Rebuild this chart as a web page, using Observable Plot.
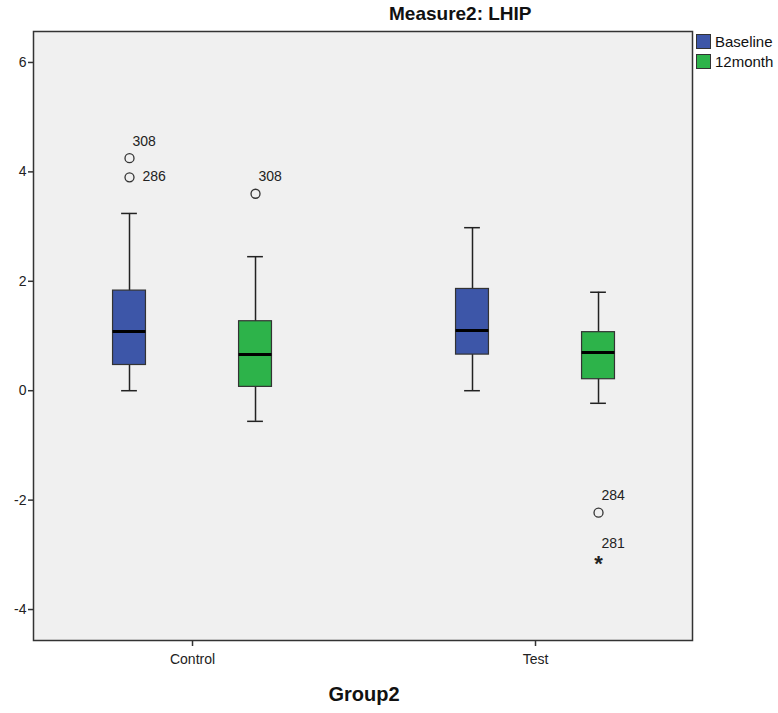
<!DOCTYPE html>
<html>
<head>
<meta charset="utf-8">
<script src="https://cdn.jsdelivr.net/npm/d3@7"></script>
<script src="https://cdn.jsdelivr.net/npm/@observablehq/plot@0.6"></script>
<style>
  body { margin: 0; background: #fff; font-family: "Liberation Sans", Arial, sans-serif; }
  #wrap { position: relative; width: 778px; height: 713px; }
  #title { position: absolute; left: 389px; top: 3px; font-weight: bold; font-size: 19px; color: #111; white-space: nowrap; }
  #xtitle { position: absolute; left: 0; width: 728px; text-align: center; top: 683px; font-weight: bold; font-size: 20px; color: #111; }
  #legend { position: absolute; left: 696px; top: 31px; font-size: 15px; color: #111; }
  .li { display: flex; align-items: center; height: 20px; }
  .sw { width: 13px; height: 13px; border: 1px solid #333; margin-right: 4px; }
</style>
</head>
<body>
<div id="wrap">
  <div id="title">Measure2: LHIP</div>
  <div id="chart"></div>
  <div id="legend"></div>
  <div id="xtitle">Group2</div>
</div>
<script>
// ---- data ----
const groups = ["Control", "Test"];
const series = ["Baseline", "12month"];
const seriesColors = ["#3D56A8", "#2DB34A"];

const boxGroup    = ["Control", "Control", "Test", "Test"];
const boxSeries   = ["Baseline", "12month", "Baseline", "12month"];
const whiskerLow  = [0.00, -0.56, 0.00, -0.23];
const q1          = [0.47, 0.07, 0.66, 0.21];
const median      = [1.08, 0.66, 1.10, 0.70];
const q3          = [1.83, 1.27, 1.86, 1.07];
const whiskerHigh = [3.24, 2.45, 2.98, 1.80];

const outGroup  = ["Control", "Control", "Control", "Test", "Test"];
const outSeries = ["Baseline", "Baseline", "12month", "12month", "12month"];
const outValue  = [4.25, 3.90, 3.60, -2.23, -3.10];
const outId     = ["308", "286", "308", "284", "281"];
const outKind   = ["outlier", "outlier", "outlier", "outlier", "extreme"];

const yTicks = [-4, -2, 0, 2, 4, 6];

// ---- layout helpers (code, not data) ----
const seriesOffset = 0.1837;
const boxHalf = 0.048;
const capHalf = 0.023;
const xOf = (g, s) => groups.indexOf(g) + (series.indexOf(s) === 0 ? -seriesOffset : seriesOffset);

const boxes = boxGroup.map((g, i) => ({
  group: g, series: boxSeries[i], x: xOf(g, boxSeries[i]),
  lo: whiskerLow[i], q1: q1[i], med: median[i], q3: q3[i], hi: whiskerHigh[i]
}));
const outs = outGroup.map((g, i) => ({
  group: g, series: outSeries[i], x: xOf(g, outSeries[i]),
  v: outValue[i], id: outId[i], kind: outKind[i]
}));
// label goes to the right if another point of the same box sits just above it
outs.forEach(d => {
  d.side = outs.some(o => o !== d && o.x === d.x && o.v > d.v && o.v - d.v < 0.5) ? "right" : "above";
});

const chart = Plot.plot({
  width: 778,
  height: 713,
  marginTop: 31,
  marginBottom: 73,
  marginLeft: 33,
  marginRight: 86,
  style: { fontFamily: "Liberation Sans, Arial, sans-serif", fontSize: "12px", color: "#222", background: "transparent" },
  x: { domain: [-0.4636, 1.4577], axis: null },
  y: { domain: [-4.566, 6.566], axis: null },
  marks: [
    Plot.frame({ fill: "#F0F0F0" }),
    Plot.axisY({ ticks: yTicks, tickFormat: d => String(d), tickSize: 5, tickPadding: 2, label: null, fontSize: 14, stroke: "#333", strokeWidth: 1.5 }),
    Plot.axisX({ ticks: [0, 1], tickFormat: i => groups[i], tickSize: 6, tickPadding: 8, label: null, fontSize: 14, stroke: "#333", strokeWidth: 1.5 }),
    // whiskers
    Plot.ruleX(boxes, { x: "x", y1: "lo", y2: "hi", stroke: "#222", strokeWidth: 1.5 }),
    Plot.ruleY(boxes, { y: "lo", x1: d => d.x - capHalf, x2: d => d.x + capHalf, stroke: "#222", strokeWidth: 1.5 }),
    Plot.ruleY(boxes, { y: "hi", x1: d => d.x - capHalf, x2: d => d.x + capHalf, stroke: "#222", strokeWidth: 1.5 }),
    // boxes
    Plot.rect(boxes, { x1: d => d.x - boxHalf, x2: d => d.x + boxHalf, y1: "q1", y2: "q3",
      fill: d => seriesColors[series.indexOf(d.series)], stroke: "#333", strokeWidth: 1.2 }),
    // medians
    Plot.ruleY(boxes, { y: "med", x1: d => d.x - boxHalf, x2: d => d.x + boxHalf, stroke: "#000", strokeWidth: 3 }),
    // outliers
    Plot.dot(outs.filter(d => d.kind === "outlier"), { x: "x", y: "v", r: 4.5, stroke: "#333", strokeWidth: 1.3, fill: "none" }),
    Plot.text(outs.filter(d => d.kind === "extreme"), { x: "x", y: "v", text: () => "*", fontSize: 22, fontWeight: "bold", dy: 4, fill: "#222" }),
    // outlier labels
    Plot.text(outs.filter(d => d.side === "above"), { x: "x", y: "v", text: "id", textAnchor: "start", fontSize: 14, fill: "#222", dx: 3, dy: -17 }),
    Plot.text(outs.filter(d => d.side === "right"), { x: "x", y: "v", text: "id", textAnchor: "start", fontSize: 14, fill: "#222", dx: 13, dy: -1 }),
    Plot.frame({ stroke: "#333", strokeWidth: 1.5 })
  ]
});
document.getElementById("chart").appendChild(chart);

const legend = document.getElementById("legend");
series.forEach((s, i) => {
  const row = document.createElement("div");
  row.className = "li";
  const sw = document.createElement("div");
  sw.className = "sw";
  sw.style.background = seriesColors[i];
  const t = document.createElement("span");
  t.textContent = s;
  row.appendChild(sw); row.appendChild(t);
  legend.appendChild(row);
});
</script>
</body>
</html>
